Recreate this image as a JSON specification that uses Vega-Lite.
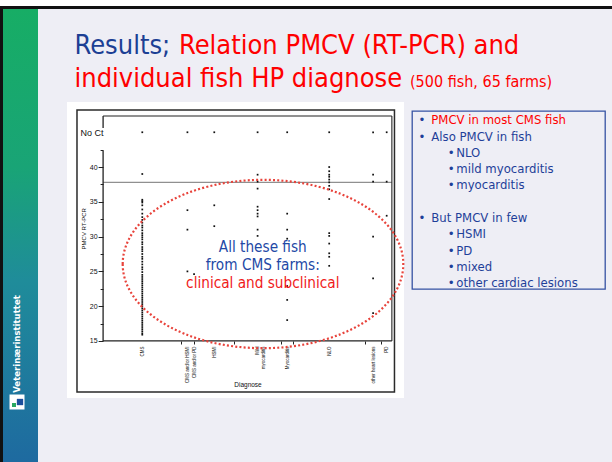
{
  "$schema": "https://vega.github.io/schema/vega-lite/v6.json",
  "background": "#eeeef5",
  "padding": 0,
  "config": {"view": {"stroke": null}, "font": "DejaVu Sans Condensed", "text": {"font": "DejaVu Sans Condensed"}, "axis": {"labelOverlap": false}},
  "datasets": {
    "fish": [
      {"diagnose": "CMS", "ct": 45}, {"diagnose": "CMS", "ct": 39}, {"diagnose": "CMS", "ct": 35.3}, {"diagnose": "CMS", "ct": 35.1}, {"diagnose": "CMS", "ct": 34.9}, {"diagnose": "CMS", "ct": 34.5}, {"diagnose": "CMS", "ct": 33.9}, {"diagnose": "CMS", "ct": 33.3}, {"diagnose": "CMS", "ct": 32.8}, {"diagnose": "CMS", "ct": 32.4}, {"diagnose": "CMS", "ct": 32.0}, {"diagnose": "CMS", "ct": 31.6}, {"diagnose": "CMS", "ct": 31.3}, {"diagnose": "CMS", "ct": 30.9}, {"diagnose": "CMS", "ct": 30.5}, {"diagnose": "CMS", "ct": 30.2}, {"diagnose": "CMS", "ct": 29.9}, {"diagnose": "CMS", "ct": 29.6}, {"diagnose": "CMS", "ct": 29.2}, {"diagnose": "CMS", "ct": 28.9}, {"diagnose": "CMS", "ct": 28.5}, {"diagnose": "CMS", "ct": 28.2}, {"diagnose": "CMS", "ct": 27.9}, {"diagnose": "CMS", "ct": 27.5}, {"diagnose": "CMS", "ct": 27.1}, {"diagnose": "CMS", "ct": 26.8}, {"diagnose": "CMS", "ct": 26.4}, {"diagnose": "CMS", "ct": 26.0}, {"diagnose": "CMS", "ct": 25.6}, {"diagnose": "CMS", "ct": 25.3}, {"diagnose": "CMS", "ct": 24.9}, {"diagnose": "CMS", "ct": 24.5}, {"diagnose": "CMS", "ct": 24.2}, {"diagnose": "CMS", "ct": 23.9}, {"diagnose": "CMS", "ct": 23.6}, {"diagnose": "CMS", "ct": 23.3}, {"diagnose": "CMS", "ct": 23.0}, {"diagnose": "CMS", "ct": 22.7}, {"diagnose": "CMS", "ct": 22.4}, {"diagnose": "CMS", "ct": 22.1}, {"diagnose": "CMS", "ct": 21.8}, {"diagnose": "CMS", "ct": 21.5}, {"diagnose": "CMS", "ct": 21.2}, {"diagnose": "CMS", "ct": 20.9}, {"diagnose": "CMS", "ct": 20.6}, {"diagnose": "CMS", "ct": 20.3}, {"diagnose": "CMS", "ct": 20.0}, {"diagnose": "CMS", "ct": 19.7}, {"diagnose": "CMS", "ct": 19.4}, {"diagnose": "CMS", "ct": 19.1}, {"diagnose": "CMS", "ct": 18.8}, {"diagnose": "CMS", "ct": 18.5}, {"diagnose": "CMS", "ct": 18.2}, {"diagnose": "CMS", "ct": 17.9}, {"diagnose": "CMS", "ct": 17.6}, {"diagnose": "CMS", "ct": 17.3}, {"diagnose": "CMS", "ct": 17.0}, {"diagnose": "CMS", "ct": 16.7}, {"diagnose": "CMS", "ct": 16.4}, {"diagnose": "CMS", "ct": 16.1}, {"diagnose": "CMS", "ct": 15.9},
      {"diagnose": "CMS and/or HSMI", "ct": 45}, {"diagnose": "CMS and/or HSMI", "ct": 33.8}, {"diagnose": "CMS and/or HSMI", "ct": 31.0}, {"diagnose": "CMS and/or HSMI", "ct": 25.0},
      {"diagnose": "CMS and/or PD", "ct": 24.6},
      {"diagnose": "HSMI", "ct": 45}, {"diagnose": "HSMI", "ct": 34.5}, {"diagnose": "HSMI", "ct": 31.5},
      {"diagnose": "Mild myocarditis", "ct": 45}, {"diagnose": "Mild myocarditis", "ct": 38.9}, {"diagnose": "Mild myocarditis", "ct": 37.9}, {"diagnose": "Mild myocarditis", "ct": 36.9}, {"diagnose": "Mild myocarditis", "ct": 34.3}, {"diagnose": "Mild myocarditis", "ct": 33.8}, {"diagnose": "Mild myocarditis", "ct": 33.3}, {"diagnose": "Mild myocarditis", "ct": 32.9}, {"diagnose": "Mild myocarditis", "ct": 31.0}, {"diagnose": "Mild myocarditis", "ct": 30.1},
      {"diagnose": "Myocarditis", "ct": 45}, {"diagnose": "Myocarditis", "ct": 33.3}, {"diagnose": "Myocarditis", "ct": 31.0}, {"diagnose": "Myocarditis", "ct": 29.7}, {"diagnose": "Myocarditis", "ct": 22.9}, {"diagnose": "Myocarditis", "ct": 20.9}, {"diagnose": "Myocarditis", "ct": 18.0},
      {"diagnose": "NLO", "ct": 45}, {"diagnose": "NLO", "ct": 40.0}, {"diagnose": "NLO", "ct": 39.4}, {"diagnose": "NLO", "ct": 38.9}, {"diagnose": "NLO", "ct": 38.6}, {"diagnose": "NLO", "ct": 38.2}, {"diagnose": "NLO", "ct": 37.8}, {"diagnose": "NLO", "ct": 37.3}, {"diagnose": "NLO", "ct": 36.8}, {"diagnose": "NLO", "ct": 35.4}, {"diagnose": "NLO", "ct": 30.5}, {"diagnose": "NLO", "ct": 30.1}, {"diagnose": "NLO", "ct": 29.0}, {"diagnose": "NLO", "ct": 27.6}, {"diagnose": "NLO", "ct": 27.1}, {"diagnose": "NLO", "ct": 25.8},
      {"diagnose": "other heart lesions", "ct": 45}, {"diagnose": "other heart lesions", "ct": 38.9}, {"diagnose": "other heart lesions", "ct": 37.9}, {"diagnose": "other heart lesions", "ct": 30.0}, {"diagnose": "other heart lesions", "ct": 24.0}, {"diagnose": "other heart lesions", "ct": 19.0},
      {"diagnose": "PD", "ct": 45}, {"diagnose": "PD", "ct": 37.9}, {"diagnose": "PD", "ct": 33.0}
    ],
    "cats": [
      {"diagnose": "CMS", "xc": 13.57}, {"diagnose": "CMS and/or HSMI", "xc": 29.2}, {"diagnose": "CMS and/or PD", "xc": 31.5}, {"diagnose": "HSMI", "xc": 38.5}, {"diagnose": "Mild myocarditis", "xc": 53.5}, {"diagnose": "Myocarditis", "xc": 63.75}, {"diagnose": "NLO", "xc": 78.3}, {"diagnose": "other heart lesions", "xc": 93.5}, {"diagnose": "PD", "xc": 98.2}
    ],
    "box": [
      {"line": 1, "level": 1, "text": "PMCV in most CMS fish", "kind": "key"},
      {"line": 2, "level": 1, "text": "Also PMCV in fish", "kind": "text"},
      {"line": 3, "level": 2, "text": "NLO", "kind": "text"},
      {"line": 4, "level": 2, "text": "mild myocarditis", "kind": "text"},
      {"line": 5, "level": 2, "text": "myocarditis", "kind": "text"},
      {"line": 7, "level": 1, "text": "But PMCV in few", "kind": "text"},
      {"line": 8, "level": 2, "text": "HSMI", "kind": "text"},
      {"line": 9, "level": 2, "text": "PD", "kind": "text"},
      {"line": 10, "level": 2, "text": "mixed", "kind": "text"},
      {"line": 11, "level": 2, "text": "other cardiac lesions", "kind": "text"}
    ]
  },
  "bounds": "flush",
  "spacing": 0,
  "vconcat": [
    {"width": 612, "height": 6, "data": {"values": [{}]}, "mark": {"type": "rect", "color": "white"}, "encoding": {}},
    {"width": 612, "height": 3, "data": {"values": [{}]}, "mark": {"type": "rect", "color": "#111111"}, "encoding": {}},
    {
      "bounds": "flush",
      "spacing": 67,
      "hconcat": [
        {
          "bounds": "flush",
          "spacing": 0,
          "hconcat": [
            {"width": 3, "height": 453, "data": {"values": [{}]}, "mark": {"type": "rect", "color": "#111111"}, "encoding": {}},
            {
              "width": 35, "height": 453,
              "data": {"values": [{}]},
              "layer": [
                {"mark": {"type": "rect", "fill": {"gradient": "linear", "x1": 0, "y1": 0, "x2": 0, "y2": 1, "stops": [{"offset": 0, "color": "#17ad65"}, {"offset": 0.35, "color": "#19a476"}, {"offset": 0.6, "color": "#1f8c9a"}, {"offset": 1, "color": "#1e6aa0"}]}}, "encoding": {}},
                {"mark": {"type": "text", "text": "Veterinærinstituttet", "angle": 270, "color": "white", "fontSize": 9.5, "fontWeight": "bold", "align": "center", "baseline": "middle"}, "encoding": {"x": {"value": 14}, "y": {"value": 335}}},
                {"mark": {"type": "point", "shape": "square", "filled": true, "color": "white", "size": 225, "opacity": 1}, "encoding": {"x": {"value": 14}, "y": {"value": 393}}},
                {"mark": {"type": "point", "shape": "square", "filled": true, "color": "#1c4f9c", "size": 40, "opacity": 1}, "encoding": {"x": {"value": 17}, "y": {"value": 393}}},
                {"mark": {"type": "point", "shape": "square", "filled": true, "color": "#2aa860", "size": 16, "opacity": 1}, "encoding": {"x": {"value": 11}, "y": {"value": 396}}}
              ]
            }
          ]
        },
        {
          "bounds": "flush",
          "spacing": 0,
          "vconcat": [
            {
              "width": 545, "height": 93,
              "data": {"values": [{}]},
              "layer": [
                {"mark": {"type": "text", "text": "Results;", "color": "#1c3f94", "fontSize": 27, "align": "left", "baseline": "alphabetic"}, "encoding": {"x": {"value": 7.5}, "y": {"value": 45}}},
                {"mark": {"type": "text", "text": "Relation PMCV (RT-PCR) and", "color": "#ff0000", "fontSize": 27, "align": "left", "baseline": "alphabetic"}, "encoding": {"x": {"value": 112}, "y": {"value": 45}}},
                {"mark": {"type": "text", "text": "individual fish HP diagnose", "color": "#ff0000", "fontSize": 27, "align": "left", "baseline": "alphabetic"}, "encoding": {"x": {"value": 7.5}, "y": {"value": 78}}},
                {"mark": {"type": "text", "text": "(500 fish, 65 farms)", "color": "#ff0000", "fontSize": 16, "align": "left", "baseline": "alphabetic"}, "encoding": {"x": {"value": 343}, "y": {"value": 78}}}
              ]
            },
            {
              "bounds": "flush",
              "spacing": 8,
              "hconcat": [
                {
                  "width": 337, "height": 296,
                  "view": {"fill": "white", "stroke": null},
                  "layer": [
                    {
                      "data": {"values": [{}]},
                      "mark": {"type": "rect", "filled": false, "color": "#2a2a2a", "strokeWidth": 1.5},
                      "encoding": {"x": {"datum": -9.04, "type": "quantitative"}, "x2": {"datum": 100.9}, "y": {"datum": 7.67, "type": "quantitative"}, "y2": {"datum": 48.2}}
                    },
                    {
                      "data": {"values": [{}]},
                      "mark": {"type": "rule", "color": "#909090", "strokeWidth": 1.3},
                      "encoding": {"x": {"datum": 0, "type": "quantitative"}, "x2": {"datum": 100}, "y": {"datum": 37.8, "type": "quantitative"}}
                    },
                    {
                      "data": {"name": "fish"},
                      "transform": [{"lookup": "diagnose", "from": {"data": {"name": "cats"}, "key": "diagnose", "fields": ["xc"]}}],
                      "mark": {"type": "point", "shape": "square", "filled": true, "size": 3, "color": "#111111", "opacity": 1},
                      "encoding": {
                        "x": {
                          "field": "xc", "type": "quantitative",
                          "scale": {"domain": [-12.5, 104.2], "nice": false, "zero": false},
                          "axis": {
                            "orient": "bottom", "offset": -57, "domain": false, "grid": false, "tickCount": 60,
                            "values": [13.57, 26.98, 29.2, 31.48, 31.5, 38.5, 45.33, 53.5, 61.6, 63.75, 65.76, 78.3, 90.69, 93.5, 96.23, 98.2],
                            "labelExpr": "datum.value == 13.57 ? 'CMS' : datum.value == 29.2 ? 'CMS and/or HSMI' : datum.value == 31.5 ? 'CMS and/or PD' : datum.value == 38.5 ? 'HSMI' : datum.value == 53.5 ? ['Mild', 'myocarditis'] : datum.value == 63.75 ? 'Myocarditis' : datum.value == 78.3 ? 'NLO' : datum.value == 93.5 ? 'other heart lesions' : datum.value == 98.2 ? 'PD' : ''",
                            "labelAngle": -90, "labelFont": "Liberation Sans", "labelFontSize": 4.5, "labelColor": "#111111", "labelPadding": 2, "labelLineHeight": 5.5,
                            "labelOverlap": false, "labelBound": false, "labelFlush": false,
                            "tickSize": 3, "tickColor": "#222222",
                            "tickOpacity": {"condition": {"test": "indexof([26.98, 31.48, 45.33, 61.6, 65.76, 90.69, 96.23], datum.value) >= 0", "value": 1}, "value": 0},
                            "title": "Diagnose", "titleFont": "Liberation Sans", "titleFontSize": 6.5, "titleFontWeight": "normal", "titleColor": "#111111", "titleX": 180.5, "titleY": 40, "titleBaseline": "top"
                          }
                        },
                        "y": {
                          "field": "ct", "type": "quantitative",
                          "scale": {"domain": [6.8, 49.35], "nice": false, "zero": false},
                          "axis": {
                            "orient": "left", "offset": -36.1, "domain": false, "grid": false, "tickCount": 60,
                            "values": [15, 17.5, 20, 22.5, 25, 27.5, 30, 32.5, 35, 37.5, 40, 42.5, 45],
                            "labelExpr": "datum.value == 45 ? 'No Ct' : (datum.value % 5 == 0 ? datum.label : '')",
                            "labelFont": "Liberation Sans",
                            "labelFontSize": {"condition": {"test": "datum.value == 45", "value": 9}, "value": 7},
                            "labelPadding": {"condition": {"test": "datum.value == 45", "value": -5}, "value": 1},
                            "labelColor": "#111111",
                            "labelOverlap": false, "labelBound": false, "labelFlush": false,
                            "tickSize": {"condition": {"test": "datum.value % 5 != 0", "value": 3}, "value": 5},
                            "tickOpacity": {"condition": {"test": "datum.value == 45", "value": 0}, "value": 1},
                            "tickColor": "#222222",
                            "title": "PMCV RT-PCR", "titleFont": "Liberation Sans", "titleFontSize": 6, "titleFontWeight": "normal", "titleColor": "#111111", "titleX": -16.4, "titleY": 126.3
                          }
                        }
                      }
                    },
                    {
                      "data": {"values": [{}]},
                      "mark": {"type": "rule", "color": "#222222", "strokeWidth": 1.3},
                      "encoding": {"x": {"datum": 0, "type": "quantitative"}, "y": {"datum": 15, "type": "quantitative"}, "y2": {"datum": 42.35}}
                    },
                    {
                      "data": {"values": [{}]},
                      "mark": {"type": "rule", "color": "#222222", "strokeWidth": 1.3},
                      "encoding": {"x": {"datum": 0, "type": "quantitative"}, "y": {"datum": 45.6, "type": "quantitative"}, "y2": {"datum": 47.34}}
                    },
                    {
                      "data": {"values": [{}]},
                      "mark": {"type": "rule", "color": "#222222", "strokeWidth": 1.3},
                      "encoding": {"x": {"datum": 0, "type": "quantitative"}, "x2": {"datum": 100}, "y": {"datum": 15, "type": "quantitative"}}
                    },
                    {
                      "data": {"values": [{}]},
                      "mark": {"type": "rule", "color": "#222222", "strokeWidth": 1.1},
                      "encoding": {"x": {"datum": 0, "type": "quantitative"}, "x2": {"datum": 100}, "y": {"datum": 47.34, "type": "quantitative"}}
                    },
                    {
                      "data": {"values": [{}]},
                      "mark": {"type": "rule", "color": "#222222", "strokeWidth": 1.1},
                      "encoding": {"x": {"datum": 100, "type": "quantitative"}, "y": {"datum": 15, "type": "quantitative"}, "y2": {"datum": 47.34}}
                    },
                    {
                      "data": {"values": [{}]},
                      "mark": {"type": "text", "text": "All these fish", "color": "#2349a6", "fontSize": 15.2, "align": "center", "baseline": "alphabetic"},
                      "encoding": {"x": {"datum": 55.3, "type": "quantitative"}, "y": {"datum": 27.83, "type": "quantitative"}}
                    },
                    {
                      "data": {"values": [{}]},
                      "mark": {"type": "text", "text": "from CMS farms:", "color": "#2349a6", "fontSize": 15.2, "align": "center", "baseline": "alphabetic"},
                      "encoding": {"x": {"datum": 55.3, "type": "quantitative"}, "y": {"datum": 25.2, "type": "quantitative"}}
                    },
                    {
                      "data": {"values": [{}]},
                      "mark": {"type": "text", "text": "clinical and subclinical", "color": "#f01a1a", "fontSize": 15.2, "align": "center", "baseline": "alphabetic"},
                      "encoding": {"x": {"datum": 55.3, "type": "quantitative"}, "y": {"datum": 22.57, "type": "quantitative"}}
                    },
                    {
                      "data": {"values": [{}]},
                      "mark": {"type": "point", "shape": "M-1,0A1,0.6,0,1,1,1,0A1,0.6,0,1,1,-1,0Z", "size": 78736, "filled": false, "color": "#e8433b", "strokeWidth": 2.2, "strokeDash": [2, 2.2], "opacity": 1},
                      "encoding": {"x": {"datum": 55.37, "type": "quantitative"}, "y": {"datum": 26.06, "type": "quantitative"}}
                    }
                  ]
                },
                {
                  "bounds": "flush",
                  "spacing": 0,
                  "vconcat": [
                    {"width": 193, "height": 9, "data": {"values": [{}]}, "mark": {"type": "text", "text": ""}, "encoding": {}},
                    {
                      "width": 193, "height": 178,
                      "view": {"stroke": "#3552a3", "strokeWidth": 1.3, "fill": null},
                      "data": {"name": "box"},
                      "encoding": {"y": {"field": "line", "type": "quantitative", "scale": {"domain": [0.18, 11.12], "reverse": true, "nice": false, "zero": false}, "axis": null}},
                      "layer": [
                        {
                          "mark": {"type": "text", "text": "•", "align": "center", "baseline": "alphabetic", "fontSize": 13, "color": "#1f3f99"},
                          "encoding": {"x": {"field": "level", "type": "quantitative", "scale": {"domain": [1, 2], "range": [10, 39.3]}, "axis": null}}
                        },
                        {
                          "mark": {"type": "text", "align": "left", "baseline": "alphabetic", "fontSize": 13},
                          "encoding": {
                            "x": {"field": "level", "type": "quantitative", "scale": {"domain": [1, 2], "range": [19.3, 44.3]}, "axis": null},
                            "text": {"field": "text"},
                            "color": {"field": "kind", "type": "nominal", "scale": {"domain": ["key", "text"], "range": ["#ff0000", "#1f3f99"]}, "legend": null}
                          }
                        }
                      ],
                      "resolve": {"scale": {"x": "independent"}}
                    }
                  ]
                }
              ]
            }
          ]
        }
      ]
    }
  ]
}
